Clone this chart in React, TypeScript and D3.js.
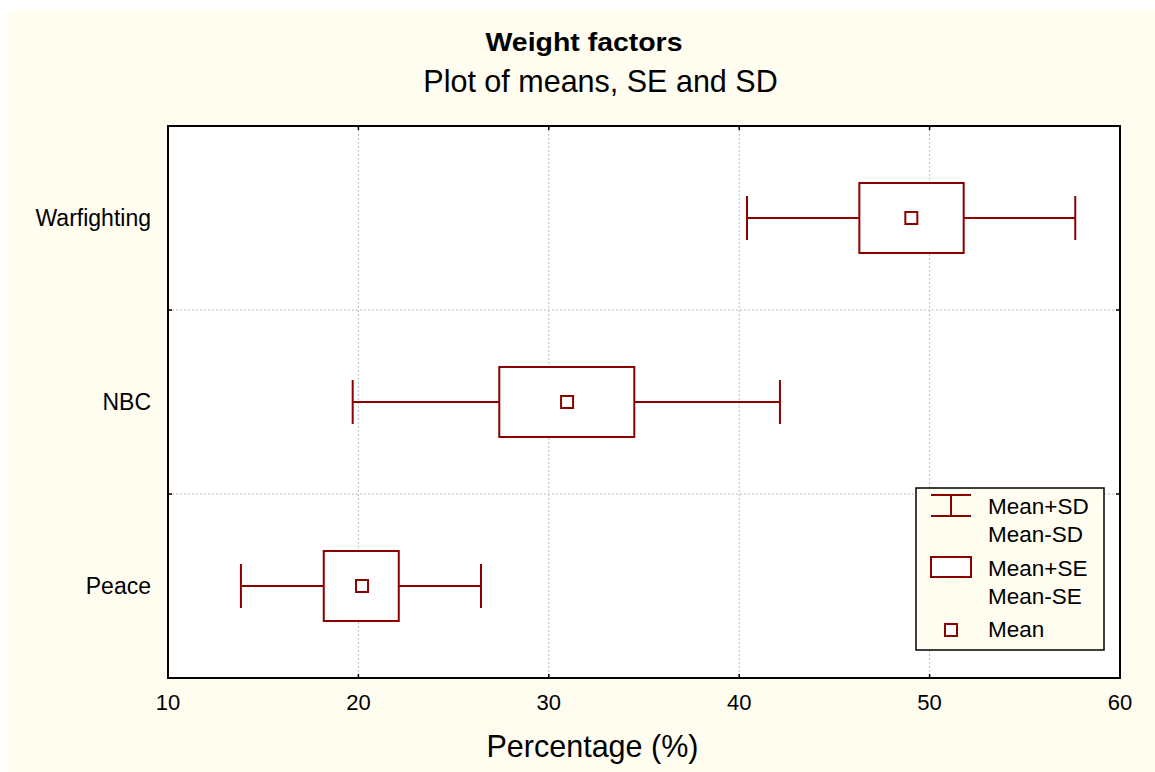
import React from "react";
import * as d3 from "d3";

const categories = ["Warfighting", "NBC", "Peace"];
const meanValues = [49.04, 30.96, 20.19];
const seLow = [46.31, 27.4, 18.18];
const seHigh = [51.79, 34.49, 22.12];
const sdLow = [40.41, 19.7, 13.83];
const sdHigh = [57.65, 42.14, 26.44];
const xTicks = [10, 20, 30, 40, 50, 60];
const legendLabels = [["Mean+SD", "Mean-SD"], ["Mean+SE", "Mean-SE"], ["Mean"]];

const W = 1155;
const H = 772;
const FONT = "'Liberation Sans', Arial, Helvetica, sans-serif";
const RED = "#8b0000";
const CREAM = "#fffcf0";

export default function App() {
  const left = 168, right = 1120, top = 126, bottom = 678;
  const x = d3.scaleLinear().domain([10, 60]).range([left, right]);
  const y = d3.scaleBand<string>().domain(categories).range([top, bottom]);
  const bw = y.bandwidth();
  const boxH = 70;
  const capH = 44;
  const meanS = 12;
  const boundaries = categories.slice(1).map((c) => y(c) as number);

  return (
    <svg
      width={W}
      height={H}
      style={{ position: "absolute", left: 0, top: 0 }}
      fontFamily={FONT}
    >
      <rect x={0} y={0} width={W} height={H} fill="#ffffff" />
      <rect x={8} y={10} width={W - 8} height={H - 10} fill={CREAM} />
      <text x={584} y={51} textAnchor="middle" fontWeight="bold" fontSize={25} textLength={197} lengthAdjust="spacingAndGlyphs" fill="#000">
        Weight factors
      </text>
      <text x={600.5} y={92} textAnchor="middle" fontSize={30.5} fill="#000">
        Plot of means, SE and SD
      </text>

      <rect x={left} y={top} width={right - left} height={bottom - top} fill="#ffffff" />

      {/* grid */}
      {xTicks.slice(1, -1).map((t) => (
        <line key={"gx" + t} x1={x(t)} x2={x(t)} y1={top} y2={bottom} stroke="#bdbdbd" strokeWidth={1} strokeDasharray="2,2" />
      ))}
      {boundaries.map((b, i) => (
        <line key={"gy" + i} x1={left} x2={right} y1={b} y2={b} stroke="#bdbdbd" strokeWidth={1} strokeDasharray="2,2" />
      ))}

      {/* ticks */}
      {xTicks.map((t) => (
        <g key={"tx" + t}>
          <line x1={x(t)} x2={x(t)} y1={bottom} y2={bottom - 4} stroke="#000" strokeWidth={1.5} />
          <line x1={x(t)} x2={x(t)} y1={top} y2={top + 4} stroke="#000" strokeWidth={1.5} />
          <text x={x(t)} y={710} textAnchor="middle" fontSize={22} fill="#000">
            {t}
          </text>
        </g>
      ))}
      {boundaries.map((b, i) => (
        <g key={"ty" + i}>
          <line x1={left} x2={left + 4} y1={b} y2={b} stroke="#000" strokeWidth={1.5} />
          <line x1={right} x2={right - 4} y1={b} y2={b} stroke="#000" strokeWidth={1.5} />
        </g>
      ))}

      {/* data */}
      {categories.map((c, i) => {
        const cy = (y(c) as number) + bw / 2;
        return (
          <g key={c} stroke={RED} strokeWidth={2} fill="none">
            <line x1={x(sdLow[i])} x2={x(seLow[i])} y1={cy} y2={cy} />
            <line x1={x(seHigh[i])} x2={x(sdHigh[i])} y1={cy} y2={cy} />
            <line x1={x(sdLow[i])} x2={x(sdLow[i])} y1={cy - capH / 2} y2={cy + capH / 2} />
            <line x1={x(sdHigh[i])} x2={x(sdHigh[i])} y1={cy - capH / 2} y2={cy + capH / 2} />
            <rect x={x(seLow[i])} y={cy - boxH / 2} width={x(seHigh[i]) - x(seLow[i])} height={boxH} fill="#ffffff" />
            <rect x={x(meanValues[i]) - meanS / 2} y={cy - meanS / 2} width={meanS} height={meanS} fill="#ffffff" />
          </g>
        );
      })}

      {/* frame */}
      <rect x={left} y={top} width={right - left} height={bottom - top} fill="none" stroke="#000" strokeWidth={2} />

      {/* category labels */}
      {categories.map((c) => (
        <text key={"l" + c} x={151} y={(y(c) as number) + bw / 2 + 8} textAnchor="end" fontSize={23} fill="#000">
          {c}
        </text>
      ))}

      <text x={592.5} y={757} textAnchor="middle" fontSize={30.5} fill="#000">
        Percentage (%)
      </text>

      {/* legend */}
      <g>
        <rect x={916} y={488} width={188} height={162} fill={CREAM} stroke="#000" strokeWidth={1.5} />
        <g stroke={RED} strokeWidth={2} fill="none">
          <line x1={931} x2={971} y1={495} y2={495} />
          <line x1={931} x2={971} y1={516} y2={516} />
          <line x1={951} x2={951} y1={495} y2={516} />
          <rect x={931} y={557} width={40} height={20} fill="#ffffff" />
          <rect x={945} y={624} width={12} height={12} fill="#ffffff" />
        </g>
        <g fontSize={22.5} fill="#000">
          <text x={988} y={514}>{legendLabels[0][0]}</text>
          <text x={988} y={542}>{legendLabels[0][1]}</text>
          <text x={988} y={576}>{legendLabels[1][0]}</text>
          <text x={988} y={604}>{legendLabels[1][1]}</text>
          <text x={988} y={637}>{legendLabels[2][0]}</text>
        </g>
      </g>
    </svg>
  );
}
